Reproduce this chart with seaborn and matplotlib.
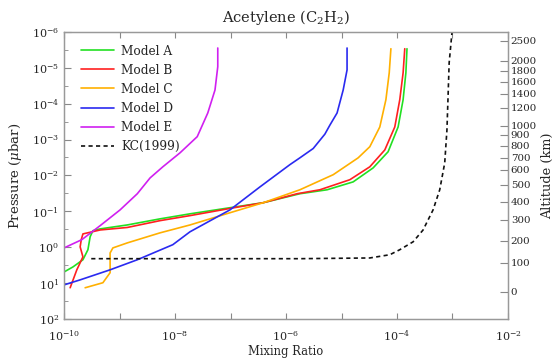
import numpy as np
import pandas as pd
import matplotlib
matplotlib.use("Agg")
import matplotlib.pyplot as plt
import matplotlib.ticker as mticker
import seaborn as sns

# ---- data (log10 mixing ratio, log10 pressure [ubar]) ----
a_logx = [-3.82, -3.84, -3.89, -3.98, -4.16, -4.43, -4.79, -5.26, -5.75, -6.41, -7.01, -7.73, -8.27, -8.86, -9.35, -9.48, -9.53, -9.57, -9.66, -9.84, -10.0]
a_logp = [-5.53, -4.86, -4.11, -3.35, -2.66, -2.21, -1.82, -1.60, -1.49, -1.24, -1.10, -0.93, -0.79, -0.62, -0.51, -0.46, -0.29, 0.07, 0.35, 0.55, 0.69]

b_logx = [-3.86, -3.89, -3.95, -4.04, -4.22, -4.49, -4.85, -5.39, -5.80, -6.41, -7.01, -7.73, -8.27, -8.86, -9.35, -9.66, -9.69, -9.71, -9.66, -9.77, -9.89]
b_logp = [-5.53, -4.86, -4.11, -3.35, -2.71, -2.24, -1.88, -1.60, -1.49, -1.24, -1.08, -0.88, -0.74, -0.55, -0.48, -0.37, -0.21, -0.01, 0.27, 0.63, 1.13]

c_logx = [-4.11, -4.14, -4.20, -4.31, -4.49, -4.70, -5.15, -5.75, -6.41, -7.01, -7.73, -8.27, -8.86, -9.12, -9.17, -9.17, -9.17, -9.30, -9.62]
c_logp = [-5.53, -4.86, -4.11, -3.35, -2.80, -2.49, -2.02, -1.60, -1.24, -0.96, -0.62, -0.40, -0.12, 0.02, 0.16, 0.43, 0.71, 0.99, 1.13]

d_logx = [-4.90, -4.90, -4.97, -5.08, -5.21, -5.30, -5.51, -5.75, -5.93, -6.47, -7.01, -7.73, -8.04, -8.68, -9.17, -9.71, -10.0]
d_logp = [-5.55, -4.94, -4.38, -3.74, -3.40, -3.15, -2.75, -2.49, -2.30, -1.68, -1.04, -0.43, -0.07, 0.35, 0.63, 0.91, 1.05]

e_logx = [-7.23, -7.23, -7.28, -7.41, -7.60, -7.91, -8.22, -8.45, -8.68, -8.99, -9.35, -9.68, -10.0]
e_logp = [-5.55, -5.03, -4.38, -3.74, -3.08, -2.63, -2.24, -1.93, -1.49, -1.04, -0.60, -0.21, 0.02]

kc_logx = [-9.51, -5.75, -4.49, -4.13, -3.95, -3.71, -3.53, -3.35, -3.23, -3.14, -3.10, -3.08, -3.06, -3.01]
kc_logp = [0.32, 0.32, 0.30, 0.21, 0.07, -0.15, -0.48, -1.04, -1.60, -2.35, -3.27, -4.19, -5.14, -5.97]

alt_km = [0, 100, 200, 300, 400, 500, 600, 700, 800, 900, 1000, 1200, 1400, 1600, 1800, 2000, 2500]
alt_logp = [1.24, 0.43, -0.18, -0.76, -1.26, -1.74, -2.16, -2.49, -2.82, -3.13, -3.38, -3.88, -4.27, -4.61, -4.91, -5.19, -5.75]

series = [
    ("Model A", a_logx, a_logp, "#22e022", "-"),
    ("Model B", b_logx, b_logp, "#ff2020", "-"),
    ("Model C", c_logx, c_logp, "#ffb000", "-"),
    ("Model D", d_logx, d_logp, "#2a2af0", "-"),
    ("Model E", e_logx, e_logp, "#d020f0", "-"),
    ("KC(1999)", kc_logx, kc_logp, "#111111", (0, (2.5, 2))),
]

sns.set_style("ticks")
plt.rcParams["font.family"] = ["DejaVu Serif"]
plt.rcParams["mathtext.fontset"] = "dejavuserif"

fig = plt.figure(figsize=(5.57, 3.58), dpi=100)
ax = fig.add_axes([0.115, 0.109, 0.797, 0.802])

for name, lx, lp, col, ls in series:
    df = pd.DataFrame({"x": 10.0 ** np.array(lx), "p": 10.0 ** np.array(lp)})
    sns.lineplot(data=df, x="x", y="p", sort=False, estimator=None, ax=ax,
                 color=col, linestyle=ls, linewidth=1.2, label=name)

ax.set_xscale("log")
ax.set_yscale("log")
ax.set_xlim(1e-10, 1e-2)
ax.set_ylim(1e2, 1e-6)

fs = 8
ax.set_xticks([10.0 ** k for k in range(-10, -1)])
ax.set_xticklabels([("10$^{%d}$" % k) if k % 2 == 0 else "" for k in range(-10, -1)], fontsize=fs)
ax.xaxis.set_minor_locator(mticker.NullLocator())
ax.set_yticks([10.0 ** k for k in range(-6, 3)])
ax.set_yticklabels(["10$^{%d}$" % k for k in range(-6, 3)], fontsize=fs)
ax.yaxis.set_minor_locator(mticker.FixedLocator([10.0 ** (k + 0.5) for k in range(-6, 2)]))
ax.yaxis.set_minor_formatter(mticker.NullFormatter())
ax.tick_params(axis="x", which="both", direction="in", top=True, length=4, color="#888888", pad=7)
ax.tick_params(axis="y", which="major", direction="in", left=True, right=False, length=5, color="#888888")
ax.tick_params(axis="y", which="minor", direction="in", left=True, right=False, length=3, color="#888888")
for s in ax.spines.values():
    s.set_color("#999999")
    s.set_linewidth(1.0)

ax.set_xlabel("Mixing Ratio", fontsize=8.3, labelpad=1)
ax.set_ylabel("Pressure ($\\mu$bar)", fontsize=9.5, labelpad=6)
ax.set_title("Acetylene (C$_2$H$_2$)", fontsize=10.5, pad=7)

ax2 = ax.twinx()
ax2.set_yscale("log")
ax2.set_ylim(1e2, 1e-6)
ax2.set_yticks([10.0 ** v for v in alt_logp])
ax2.set_yticklabels([str(v) for v in alt_km], fontsize=7.4)
ax2.yaxis.set_minor_locator(mticker.NullLocator())
ax2.tick_params(axis="y", direction="in", length=6, color="#888888", pad=2)
ax2.set_ylabel("Altitude (km)", fontsize=9.3, rotation=90, labelpad=3)
for s in ax2.spines.values():
    s.set_color("#999999")

leg = ax.legend(loc="upper left", bbox_to_anchor=(0.02, 0.985), frameon=False, fontsize=8.7,
                handlelength=2.7, handletextpad=0.6, labelspacing=0.5, borderaxespad=0.3)

fig.savefig("out.png", dpi=100)
